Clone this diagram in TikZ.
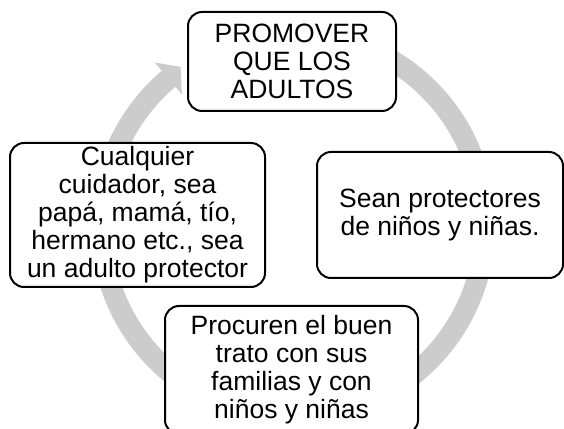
\documentclass[tikz,border=0pt]{standalone}
\usepackage{fontspec}
\setmainfont{Liberation Sans}
\definecolor{ringgray}{RGB}{204,204,204}
\tikzset{
  cyclebox/.style={draw=black, line width=2pt, fill=white, rounded corners=14pt,
    align=center, inner sep=0pt, font=\fontsize{26.5pt}{28pt}\selectfont},
  ringline/.style={draw=ringgray, line width=21pt},
}
\begin{document}
\begin{tikzpicture}[x=1pt,y=1pt]
\useasboundingbox (0,0) rectangle (564,428);
\coordinate (C) at (293,203);
% gray cycle ring with arrowhead
\draw[ringline] ([shift={(110:192)}]C) arc[start angle=110, end angle=-230, radius=192];
\fill[ringgray] ([shift={(130.4:213.5)}]C) -- ([shift={(125.4:194)}]C) -- ([shift={(130.4:171.5)}]C) -- cycle;
% boxes
\node[cyclebox, minimum width=208pt, minimum height=99pt] (top) at (292,366.5)
  {PROMOVER\\QUE LOS\\ADULTOS};
\node[cyclebox, minimum width=246pt, minimum height=126pt] (right) at (440,213)
  {Sean protectores\\de niños y niñas.};
\node[cyclebox, minimum width=253pt, minimum height=128pt] (bottom) at (291.5,58)
  {Procuren el buen\\trato con sus\\familias y con\\niños y niñas};
\node[cyclebox, minimum width=255pt, minimum height=144pt] (left) at (137.5,213)
  {Cualquier\\cuidador, sea\\papá, mamá, tío,\\hermano etc., sea\\un adulto protector};
\end{tikzpicture}
\end{document}
